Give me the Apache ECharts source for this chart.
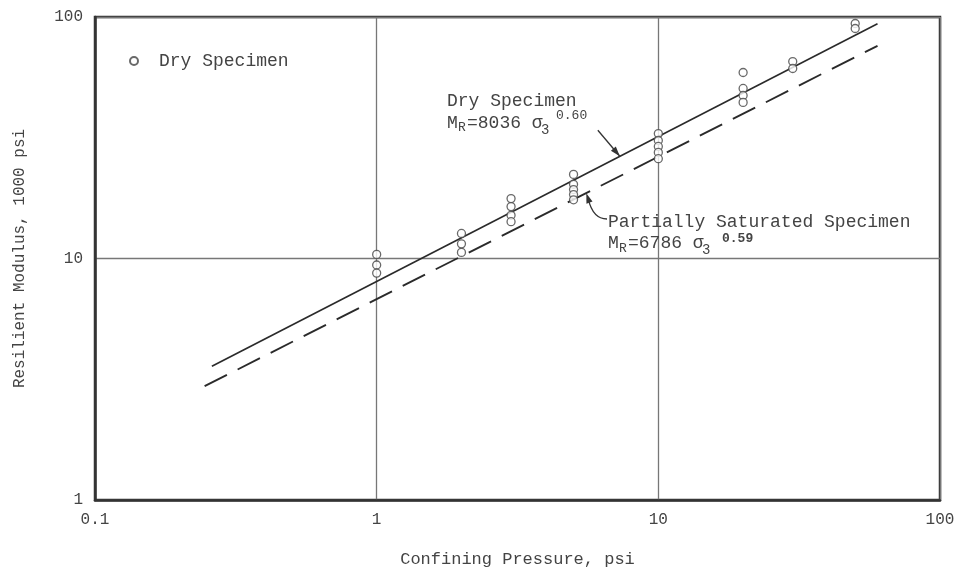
<!DOCTYPE html>
<html>
<head>
<meta charset="utf-8">
<script src="https://cdn.jsdelivr.net/npm/echarts@6/dist/echarts.min.js"></script>
<style>html,body{margin:0;padding:0;background:#fff;}#c{width:959px;height:571px;}</style>
</head>
<body>
<div id="c"></div>
<script>
// ---- data ----
const pressures = [1, 2, 3, 5, 10, 20, 30, 50];
const dryModulus = [
  [10.4, 9.4, 8.7],
  [12.7, 11.5, 10.6],
  [17.7, 16.4, 15.1, 14.2],
  [22.3, 20.3, 19.3, 18.4, 17.5],
  [32.9, 30.8, 29.1, 27.5, 25.9],
  [58.9, 50.6, 47.3, 44.3],
  [65.4, 61.2],
  [94.0, 89.6]
];
const dryFitX = [0.26, 60];
const dryFitY = [3.58, 93.7];
const satFitX = [0.245, 60];
const satFitY = [2.96, 76.0];
const xTickValues = [0.1, 1, 10, 100];
const xTickLabels = ['0.1', '1', '10', '100'];
const yTickValues = [1, 10, 100];
const yTickLabels = ['1', '10', '100'];
const arrowDryTip = [7.3, 26.5];
const arrowSatTip = [5.55, 18.65];

const FONT = '"Liberation Mono", "DejaVu Sans Mono", monospace';
const TXT = '#444';

const scatterData = [];
pressures.forEach((p, i) => dryModulus[i].forEach(v => scatterData.push([p, v])));
const dryLine = dryFitX.map((x, i) => [x, dryFitY[i]]);
const satLine = satFitX.map((x, i) => [x, satFitY[i]]);

function fmt(values, labels) {
  return function (v) {
    let best = 0, bd = Infinity;
    values.forEach((t, i) => { const d = Math.abs(Math.log10(v) - Math.log10(t)); if (d < bd) { bd = d; best = i; } });
    return bd < 0.01 ? labels[best] : '';
  };
}

const chart = echarts.init(document.getElementById('c'), null, { renderer: 'canvas' });
chart.setOption({
  animation: false,
  backgroundColor: '#fff',
  grid: { left: 95, right: 19, top: 17, bottom: 71, outerBoundsMode: 'none', containLabel: false, show: true, borderColor: '#333', borderWidth: 2.5, backgroundColor: 'transparent' },
  legend: {
    data: ['Dry Specimen'], left: 124, top: 47, itemWidth: 8, itemHeight: 8,
    textStyle: { fontFamily: FONT, fontSize: 18, color: TXT, padding: [0, 0, 0, 16] }
  },
  xAxis: {
    type: 'log', logBase: 10, min: 0.1, max: 100,
    name: 'Confining Pressure, psi', nameLocation: 'middle', nameGap: 51,
    nameTextStyle: { fontFamily: FONT, fontSize: 17, color: TXT },
    axisLine: { show: true, lineStyle: { color: '#333', width: 2.5 } },
    axisTick: { show: false },
    axisLabel: { formatter: fmt(xTickValues, xTickLabels), fontFamily: FONT, fontSize: 16, color: TXT, margin: 12, showMinLabel: true, showMaxLabel: true },
    splitLine: { show: true, lineStyle: { color: '#777', width: 1.3 } },
    minorSplitLine: { show: false }
  },
  yAxis: {
    type: 'log', logBase: 10, min: 1, max: 100,
    name: 'Resilient Modulus, 1000 psi', nameLocation: 'middle', nameGap: 67, nameRotate: 90,
    nameTextStyle: { fontFamily: FONT, fontSize: 16, color: TXT },
    axisLine: { show: true, lineStyle: { color: '#333', width: 2.5 } },
    axisTick: { show: false },
    axisLabel: { formatter: fmt(yTickValues, yTickLabels), fontFamily: FONT, fontSize: 16, color: TXT, margin: 12, showMinLabel: true, showMaxLabel: true },
    splitLine: { show: true, lineStyle: { color: '#777', width: 1.3 } },
    minorSplitLine: { show: false }
  },
  series: [
    {
      name: 'Dry fit', type: 'line', data: dryLine, showSymbol: false, symbol: 'none',
      lineStyle: { color: '#2a2a2a', width: 1.6 }, z: 3, silent: true
    },
    {
      name: 'Saturated fit', type: 'line', data: satLine, showSymbol: false, symbol: 'none',
      lineStyle: { color: '#2a2a2a', width: 1.9, type: [25, 12] }, z: 3, silent: true
    },
    {
      name: 'Dry Specimen', type: 'scatter', data: scatterData, symbol: 'circle', symbolSize: 8,
      itemStyle: { color: '#fff', borderColor: '#444', borderWidth: 1.3 }, z: 5
    }
  ]
});

// ---- annotations ----
function txt(s, x, y, size, bold) {
  return { type: 'text', z: 10, style: { text: s, x: x, y: y, font: (bold ? 'bold ' : '') + size + 'px ' + FONT, fill: TXT, verticalAlign: 'middle', align: 'left' } };
}
function arrowHead(tip, from, len, half) {
  const dx = tip[0] - from[0], dy = tip[1] - from[1];
  const L = Math.sqrt(dx * dx + dy * dy), ux = dx / L, uy = dy / L;
  const bx = tip[0] - ux * len, by = tip[1] - uy * len;
  return { type: 'polygon', z: 10, shape: { points: [tip, [bx - uy * half, by + ux * half], [bx + uy * half, by - ux * half]] }, style: { fill: '#333' } };
}
const t1 = chart.convertToPixel({ gridIndex: 0 }, arrowDryTip);
const t2 = chart.convertToPixel({ gridIndex: 0 }, arrowSatTip);
const s1 = [t1[0] - 22, t1[1] - 26];
const graphics = [
  txt('Dry Specimen', 447, 101, 18),
  txt('M', 447, 123, 18), txt('R', 458, 128, 13), txt('=8036 σ', 467, 123, 18), txt('3', 541, 130, 14), txt('0.60', 556, 116, 13),
  { type: 'line', z: 10, shape: { x1: s1[0], y1: s1[1], x2: t1[0], y2: t1[1] }, style: { stroke: '#333', lineWidth: 1.3 } },
  arrowHead(t1, s1, 10, 3.2),
  txt('Partially Saturated Specimen', 608, 222, 18),
  txt('M', 608, 243, 18), txt('R', 619, 249, 13), txt('=6786 σ', 628, 243, 18), txt('3', 702, 250, 14), txt('0.59', 722, 239, 13, true),
  { type: 'bezierCurve', z: 10, shape: { x1: 607, y1: 219, cpx1: 593, cpy1: 219, x2: t2[0] + 2, y2: t2[1] + 6 }, style: { stroke: '#333', lineWidth: 1.3, fill: null } },
  arrowHead(t2, [t2[0] + 4, t2[1] + 12], 10, 3.2)
];
chart.setOption({ graphic: graphics });
</script>
</body>
</html>
